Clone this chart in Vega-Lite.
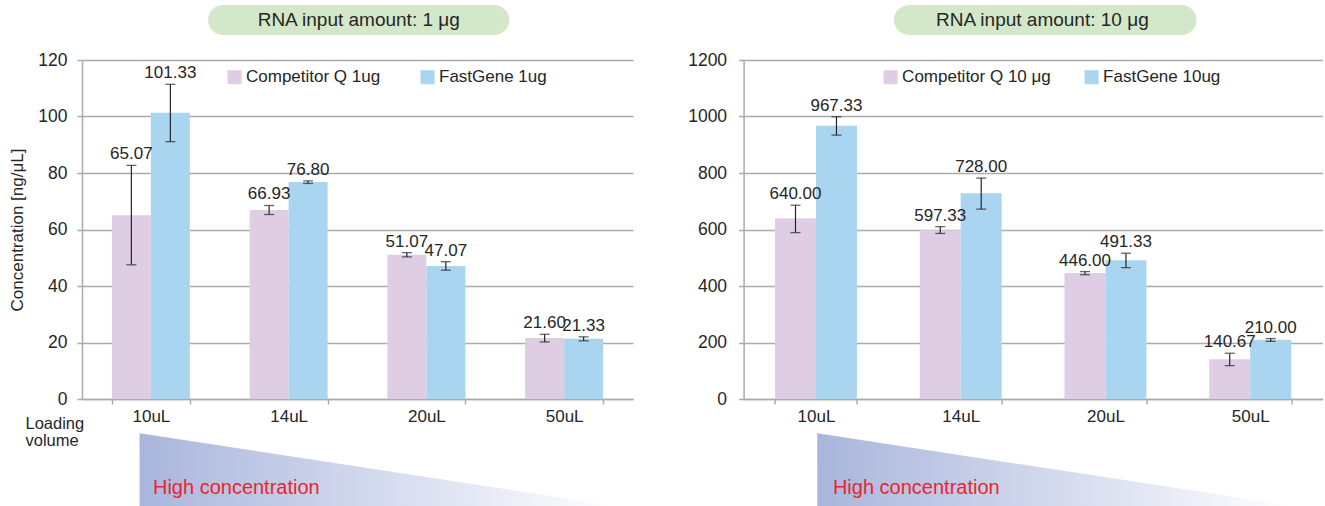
{
  "$schema": "https://vega.github.io/schema/vega-lite/v6.json",
  "padding": {"left": 8, "top": 5, "right": 4, "bottom": 0},
  "config": {
    "font": "Liberation Sans",
    "view": {"stroke": null},
    "axis": {
      "labelFont": "Liberation Sans",
      "titleFont": "Liberation Sans",
      "labelColor": "#262626",
      "titleColor": "#262626",
      "titleFontWeight": "normal",
      "domainColor": "#ABABAB",
      "domainWidth": 1.5,
      "tickColor": "#ABABAB",
      "tickWidth": 1.5,
      "tickSize": 5,
      "gridColor": "#ABABAB",
      "gridWidth": 1.5
    },
    "legend": {"labelFont": "Liberation Sans"}
  },
  "datasets": {
    "d1": [
      {"vol": "10uL", "series": "Competitor Q 1ug", "value": 65.07, "lo": 47.5, "hi": 82.7},
      {"vol": "10uL", "series": "FastGene 1ug", "value": 101.33, "lo": 91.1, "hi": 111.4},
      {"vol": "14uL", "series": "Competitor Q 1ug", "value": 66.93, "lo": 65.3, "hi": 68.5},
      {"vol": "14uL", "series": "FastGene 1ug", "value": 76.8, "lo": 76.3, "hi": 77.2},
      {"vol": "20uL", "series": "Competitor Q 1ug", "value": 51.07, "lo": 50.3, "hi": 51.8},
      {"vol": "20uL", "series": "FastGene 1ug", "value": 47.07, "lo": 45.6, "hi": 48.6},
      {"vol": "50uL", "series": "Competitor Q 1ug", "value": 21.6, "lo": 20.2, "hi": 22.9},
      {"vol": "50uL", "series": "FastGene 1ug", "value": 21.33, "lo": 20.6, "hi": 22.0}
    ],
    "d10": [
      {"vol": "10uL", "series": "Competitor Q 10 μg", "value": 640.0, "lo": 589, "hi": 686},
      {"vol": "10uL", "series": "FastGene 10ug", "value": 967.33, "lo": 934, "hi": 999},
      {"vol": "14uL", "series": "Competitor Q 10 μg", "value": 597.33, "lo": 586, "hi": 610},
      {"vol": "14uL", "series": "FastGene 10ug", "value": 728.0, "lo": 672, "hi": 782},
      {"vol": "20uL", "series": "Competitor Q 10 μg", "value": 446.0, "lo": 440, "hi": 451},
      {"vol": "20uL", "series": "FastGene 10ug", "value": 491.33, "lo": 465, "hi": 516},
      {"vol": "50uL", "series": "Competitor Q 10 μg", "value": 140.67, "lo": 118, "hi": 162},
      {"vol": "50uL", "series": "FastGene 10ug", "value": 210.0, "lo": 204, "hi": 214}
    ]
  },
  "columns": 2,
  "spacing": {"row": 25, "column": 110.6},
  "bounds": "flush",
  "align": "each",
  "resolve": {
    "scale": {"x": "independent", "y": "independent", "color": "independent", "xOffset": "independent"},
    "axis": {"x": "independent", "y": "independent"},
    "legend": {"color": "independent"}
  },
  "concat": [
    {
      "width": 551, "height": 30,
      "data": {"values": [{"label": "RNA input amount: 1 μg"}]},
      "layer": [
        {"mark": {"type": "rect", "fill": "#D3E8C8", "cornerRadius": 15},
         "encoding": {"x": {"datum": 0.915, "type": "quantitative", "scale": {"domain": [0, 4], "nice": false, "zero": false}, "axis": null}, "x2": {"datum": 3.102}}},
        {"mark": {"type": "text", "fontSize": 19, "color": "#262626"},
         "encoding": {"x": {"datum": 2.009, "type": "quantitative", "axis": null}, "text": {"field": "label"}}}
      ]
    },
    {
      "width": 579, "height": 30,
      "data": {"values": [{"label": "RNA input amount: 10 μg"}]},
      "layer": [
        {"mark": {"type": "rect", "fill": "#D3E8C8", "cornerRadius": 15},
         "encoding": {"x": {"datum": 1.039, "type": "quantitative", "scale": {"domain": [0, 4], "nice": false, "zero": false}, "axis": null}, "x2": {"datum": 3.129}}},
        {"mark": {"type": "text", "fontSize": 19, "color": "#262626"},
         "encoding": {"x": {"datum": 2.064, "type": "quantitative", "axis": null}, "text": {"field": "label"}}}
      ]
    },
    {
      "width": 551, "height": 339,
      "data": {"name": "d1"},
      "encoding": {
        "x": {"field": "vol", "type": "nominal", "sort": ["10uL", "14uL", "20uL", "50uL"],
              "scale": {"paddingInner": 0.434, "paddingOuter": 0.217},
              "axis": {"title": ["Loading", "volume"], "titleX": -57, "titleY": 29, "titleAlign": "left", "titleBaseline": "alphabetic", "titleFontSize": 16.5, "titleLineHeight": 17, "labelAngle": 0, "labelFontSize": 17, "labelPadding": 4, "tickBand": "extent"}},
        "xOffset": {"field": "series", "type": "nominal", "sort": ["Competitor Q 1ug", "FastGene 1ug"]}
      },
      "layer": [
        {"mark": {"type": "bar"},
         "encoding": {
           "y": {"field": "value", "type": "quantitative", "title": "Concentration [ng/μL]",
                 "scale": {"domain": [0, 120], "nice": false},
                 "axis": {"values": [0, 20, 40, 60, 80, 100, 120], "format": "d", "grid": true, "labelFontSize": 17.5, "labelPadding": 10, "titleFontSize": 17, "titlePadding": 11}},
           "color": {"field": "series", "type": "nominal",
                     "scale": {"domain": ["Competitor Q 1ug", "FastGene 1ug"], "range": ["#DECDE3", "#A9D5F0"]},
                     "legend": {"orient": "none", "legendX": 144, "legendY": 8.5, "direction": "horizontal", "title": null, "symbolType": "square", "symbolSize": 196, "symbolStrokeWidth": 0, "symbolOpacity": 1, "labelFontSize": 17, "labelColor": "#262626", "labelOffset": 3, "columnPadding": 38, "padding": 0}}
         }},
        {"mark": {"type": "rule", "color": "#262626", "strokeWidth": 1.2},
         "encoding": {"y": {"field": "lo", "type": "quantitative", "title": "Concentration [ng/μL]"}, "y2": {"field": "hi"}}},
        {"mark": {"type": "tick", "color": "#262626", "size": 10, "thickness": 1.3},
         "encoding": {"y": {"field": "lo", "type": "quantitative", "title": "Concentration [ng/μL]"}}},
        {"mark": {"type": "tick", "color": "#262626", "size": 10, "thickness": 1.3},
         "encoding": {"y": {"field": "hi", "type": "quantitative", "title": "Concentration [ng/μL]"}}},
        {"mark": {"type": "text", "fontSize": 17, "color": "#262626", "baseline": "alphabetic", "dy": -6},
         "encoding": {"y": {"field": "hi", "type": "quantitative", "title": "Concentration [ng/μL]"}, "text": {"field": "value", "type": "quantitative", "format": ".2f"}}}
      ]
    },
    {
      "width": 579, "height": 339,
      "data": {"name": "d10"},
      "encoding": {
        "x": {"field": "vol", "type": "nominal", "sort": ["10uL", "14uL", "20uL", "50uL"],
              "scale": {"paddingInner": 0.434, "paddingOuter": 0.217},
              "axis": {"title": null, "labelAngle": 0, "labelFontSize": 17, "labelPadding": 4, "tickBand": "extent"}},
        "xOffset": {"field": "series", "type": "nominal", "sort": ["Competitor Q 10 μg", "FastGene 10ug"]}
      },
      "layer": [
        {"mark": {"type": "bar"},
         "encoding": {
           "y": {"field": "value", "type": "quantitative", "title": null,
                 "scale": {"domain": [0, 1200], "nice": false},
                 "axis": {"values": [0, 200, 400, 600, 800, 1000, 1200], "format": "d", "grid": true, "labelFontSize": 17.5, "labelPadding": 12}},
           "color": {"field": "series", "type": "nominal",
                     "scale": {"domain": ["Competitor Q 10 μg", "FastGene 10ug"], "range": ["#DECDE3", "#A9D5F0"]},
                     "legend": {"orient": "none", "legendX": 138.5, "legendY": 8.5, "direction": "horizontal", "title": null, "symbolType": "square", "symbolSize": 196, "symbolStrokeWidth": 0, "symbolOpacity": 1, "labelFontSize": 17, "labelColor": "#262626", "labelOffset": 3, "columnPadding": 32, "padding": 0}}
         }},
        {"mark": {"type": "rule", "color": "#262626", "strokeWidth": 1.2},
         "encoding": {"y": {"field": "lo", "type": "quantitative", "title": null}, "y2": {"field": "hi"}}},
        {"mark": {"type": "tick", "color": "#262626", "size": 10, "thickness": 1.3},
         "encoding": {"y": {"field": "lo", "type": "quantitative", "title": null}}},
        {"mark": {"type": "tick", "color": "#262626", "size": 10, "thickness": 1.3},
         "encoding": {"y": {"field": "hi", "type": "quantitative", "title": null}}},
        {"mark": {"type": "text", "fontSize": 17, "color": "#262626", "baseline": "alphabetic", "dy": -6},
         "encoding": {"y": {"field": "hi", "type": "quantitative", "title": null}, "text": {"field": "value", "type": "quantitative", "format": ".2f"}}}
      ]
    },
    {
      "width": 551, "height": 82,
      "layer": [
        {"data": {"values": [{"position": 0.418, "level": 1}, {"position": 3.879, "level": 0}]},
         "mark": {"type": "area", "fill": {"gradient": "linear", "x1": 0, "y1": 0, "x2": 1, "y2": 0, "stops": [{"offset": 0, "color": "#A9B5DC"}, {"offset": 1, "color": "#FFFFFF"}]}},
         "encoding": {
           "x": {"field": "position", "type": "quantitative", "scale": {"domain": [0, 4], "nice": false, "zero": false}, "axis": null},
           "y": {"field": "level", "type": "quantitative", "scale": {"domain": [0, 1.128], "nice": false}, "axis": null}
         }},
        {"data": {"values": [{"label": "High concentration"}]},
         "mark": {"type": "text", "fontSize": 20, "color": "#E8262D", "align": "left", "baseline": "middle"},
         "encoding": {"x": {"datum": 0.515, "type": "quantitative"}, "y": {"datum": 0.25, "type": "quantitative"}, "text": {"field": "label"}}}
      ]
    },
    {
      "width": 579, "height": 82,
      "layer": [
        {"data": {"values": [{"position": 0.509, "level": 1}, {"position": 3.806, "level": 0}]},
         "mark": {"type": "area", "fill": {"gradient": "linear", "x1": 0, "y1": 0, "x2": 1, "y2": 0, "stops": [{"offset": 0, "color": "#A9B5DC"}, {"offset": 1, "color": "#FFFFFF"}]}},
         "encoding": {
           "x": {"field": "position", "type": "quantitative", "scale": {"domain": [0, 4], "nice": false, "zero": false}, "axis": null},
           "y": {"field": "level", "type": "quantitative", "scale": {"domain": [0, 1.128], "nice": false}, "axis": null}
         }},
        {"data": {"values": [{"label": "High concentration"}]},
         "mark": {"type": "text", "fontSize": 20, "color": "#E8262D", "align": "left", "baseline": "middle"},
         "encoding": {"x": {"datum": 0.617, "type": "quantitative"}, "y": {"datum": 0.25, "type": "quantitative"}, "text": {"field": "label"}}}
      ]
    }
  ]
}
